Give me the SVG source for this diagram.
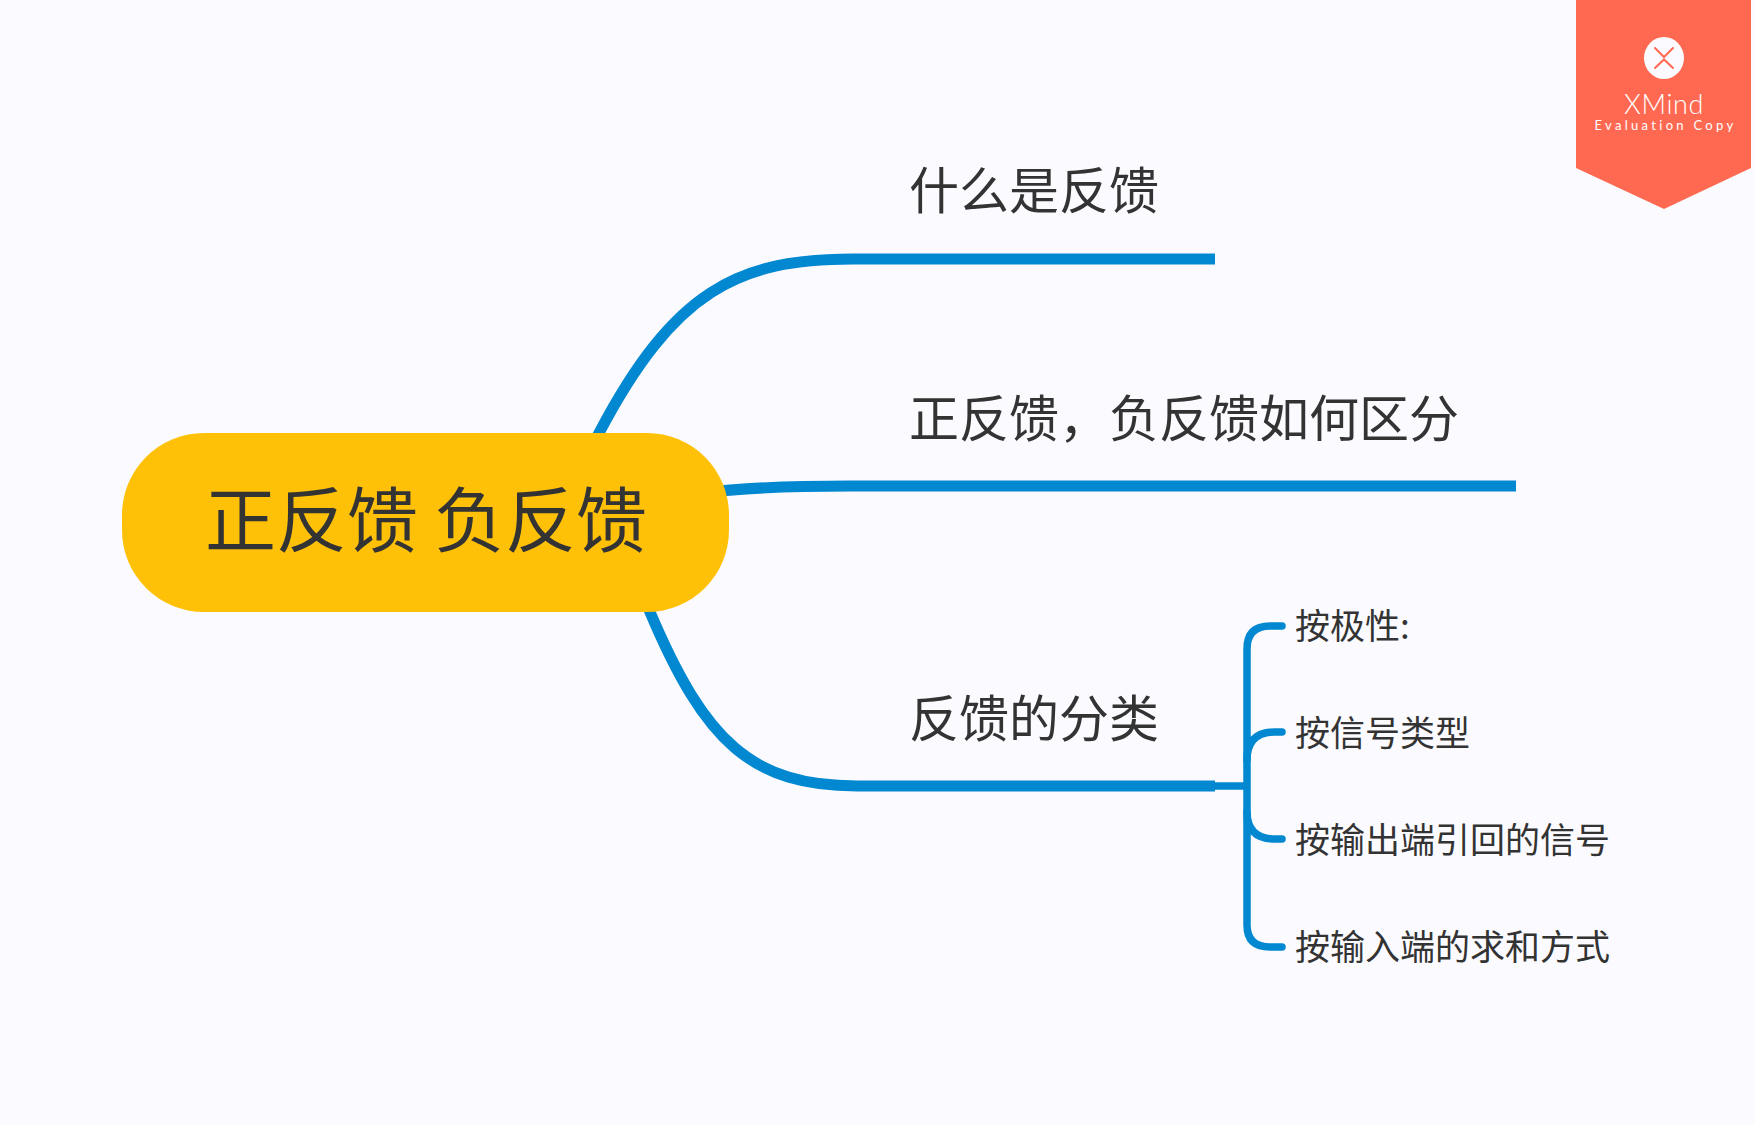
<svg xmlns="http://www.w3.org/2000/svg" width="1755" height="1125" viewBox="0 0 1755 1125">
<style>
.bg{fill:#fbfbff}
.t{font-family:"Noto Sans CJK SC","Noto Sans",sans-serif;fill:#333333}
.l2{font-size:50px}
.l3{font-size:35px}
.c{fill:none;stroke:#0288d1;stroke-width:11}
.b{fill:none;stroke:#0288d1;stroke-width:7.5;stroke-linecap:round}
</style>
<rect class="bg" width="1755" height="1125"/>
<g id="connectors">
<path class="c" d="M590 451L599 433C674 290.500 738 259 853 259H1215"/>
<path class="c" d="M700 493C750 487 800 486 850 486H1516"/>
<path class="c" d="M640 590L650 612C705 742 752 786 857 786H1215"/>
<path class="b" style="stroke-linecap:butt" d="M1215 786H1247"/>
<path class="b" d="M1282 626H1270Q1247 626 1247 649V925Q1247 947 1270 947H1282"/>
<path class="b" d="M1247 760Q1247 732 1275 732H1282"/>
<path class="b" d="M1247 812Q1247 839 1275 839H1282"/>
</g>
<g id="root">
<rect x="122" y="433" width="607" height="179" rx="82" ry="82" fill="#ffc107"/>
<text class="t" x="205" y="546" font-size="71">正反馈 负反馈</text>
</g>
<g id="n1"><text class="t l2" x="909" y="209">什么是反馈</text></g>
<g id="n2"><text class="t l2" x="909" y="437">正反馈，负反馈如何区分</text></g>
<g id="n3"><text class="t l2" x="909" y="737">反馈的分类</text></g>
<g id="n4"><text class="t l3" x="1295" y="638.5">按极性:</text></g>
<g id="n5"><text class="t l3" x="1295" y="745.5">按信号类型</text></g>
<g id="n6"><text class="t l3" x="1295" y="852.5">按输出端引回的信号</text></g>
<g id="n7"><text class="t l3" x="1295" y="959.5">按输入端的求和方式</text></g>
<g id="badge">
<path d="M1576 0H1751V168L1664 209L1576 168Z" fill="#ff6952"/>
<ellipse cx="1664" cy="58" rx="20" ry="21" fill="#fbfbff"/>
<path d="M1655 48L1664 57L1673 48M1655 68L1664 59.500L1673 68" fill="none" stroke="#ff6952" stroke-width="2" stroke-linecap="round"/>
<text x="1664" y="114" text-anchor="middle" font-family="Lato,sans-serif" font-weight="300" font-size="27" letter-spacing="0.6" fill="#fff">XMind</text>
<text x="1665.500" y="129.500" text-anchor="middle" font-family="Lato,sans-serif" font-size="13" letter-spacing="3.3" fill="#fff">Evaluation Copy</text>
</g>
</svg>
